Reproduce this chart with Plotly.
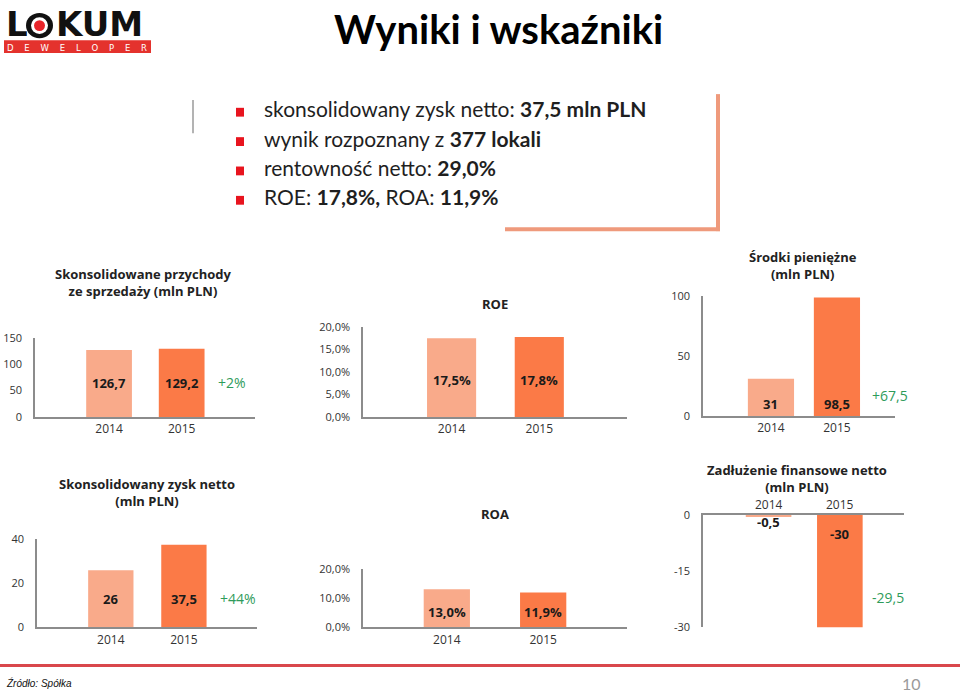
import plotly.graph_objects as go

# ---------------- data ----------------
years = ["2014", "2015"]
revenue = [126.7, 129.2]
revenue_change = "+2%"
roe = [17.5, 17.8]
cash = [31.0, 98.5]
cash_change = "+67,5"
net_profit = [26.0, 37.5]
profit_change = "+44%"
roa = [13.0, 11.9]
net_debt = [-0.5, -30.0]
debt_change = "-29,5"

bullets = [
    "skonsolidowany zysk netto: <b>37,5 mln PLN</b>",
    "wynik rozpoznany z <b>377 lokali</b>",
    "rentowność netto: <b>29,0%</b>",
    "ROE: <b>17,8%,</b> ROA: <b>11,9%</b>",
]

C14 = "#F9AA8A"
C15 = "#FB7A47"
GREEN = "#2E9B5A"
AX = "#8C8C8C"
TXT = "#333333"
FONT = "Open Sans"
W, H = 960, 700


def fx(px):
    return px / W


def fy(py):
    return 1 - py / H


def num(v, pct=False):
    if pct:
        return f"{v:.1f}".replace(".", ",") + "%"
    if float(v).is_integer():
        return str(int(v))
    return f"{v:.1f}".replace(".", ",")


def note(px, py, text, size, color, family=FONT, xanchor="center", **kw):
    d = dict(x=fx(px), y=fy(py), xref="paper", yref="paper", xanchor=xanchor, yanchor="middle",
             text=text, showarrow=False, font=dict(size=size, color=color, family=family))
    d.update(kw)
    return d


fig = go.Figure()
layout = dict(
    width=W, height=H, margin=dict(l=0, r=0, t=0, b=0),
    paper_bgcolor="white", plot_bgcolor="white", showlegend=False,
    font=dict(family=FONT, color=TXT),
)
annotations = []
shapes = []

charts = [
    dict(i=1, v=revenue, xd=(35, 255), yd=(418, 337), xr=[-1.02, 2.01], w=0.63, yr=[0, 150],
         tv=[0, 50, 100, 150], pct=False, ly=[383, 383], side="bottom"),
    dict(i=2, v=roe, xd=(363, 627), yd=(418, 326), xr=[-1.01, 2.0], w=0.56, yr=[0, 20],
         tv=[0, 5, 10, 15, 20], pct=True, ly=[380, 380], side="bottom"),
    dict(i=3, v=cash, xd=(703, 895), yd=(417, 294), xr=[-1.03, 1.88], w=0.7, yr=[0, 100],
         tv=[0, 50, 100], pct=False, ly=[404, 404], side="bottom"),
    dict(i=4, v=net_profit, xd=(37, 257), yd=(633, 543), xr=[-1.01, 2.0], w=0.62, yr=[0, 40],
         tv=[0, 20, 40], pct=False, ly=[603, 603], side="bottom"),
    dict(i=5, v=roa, xd=(363, 627), yd=(633, 573), xr=[-0.87, 1.87], w=0.48, yr=[0, 20],
         tv=[0, 10, 20], pct=True, ly=[617, 617], side="bottom"),
    dict(i=6, v=net_debt, xd=(703, 904), yd=(633, 518), xr=[-0.92, 1.9], w=0.64, yr=[-30, 0],
         tv=[-30, -15, 0], pct=False, ly=[525, 537], side="top"),
]

for c in charts:
    i = c["i"]
    xs = "x" if i == 1 else f"x{i}"
    ys = "y" if i == 1 else f"y{i}"
    top = c["side"] == "top"
    fig.add_trace(go.Bar(
        x=[0, 1], y=c["v"], width=c["w"], marker=dict(color=[C14, C15], line=dict(width=0)),
        xaxis=xs, yaxis=ys, hoverinfo="skip",
    ))
    if c["pct"]:
        tt = [num(t, True) for t in c["tv"]]
    else:
        tt = [str(t) for t in c["tv"]]
    layout["xaxis" if i == 1 else f"xaxis{i}"] = dict(
        domain=[fx(c["xd"][0]), fx(c["xd"][1])], anchor=ys, range=c["xr"],
        tickvals=[0, 1], ticktext=years, showline=True, linecolor=AX, linewidth=1.5,
        showgrid=False, zeroline=False, ticks="", side=c["side"], showticklabels=not top,
        tickfont=dict(size=12, color=TXT, family=FONT), fixedrange=True,
    )
    layout["yaxis" if i == 1 else f"yaxis{i}"] = dict(
        domain=[fy(c["yd"][0]), fy(c["yd"][1])], anchor=xs, range=c["yr"],
        tickvals=c["tv"], ticktext=tt, showline=True, linecolor=AX, linewidth=1.5,
        showgrid=False, zeroline=False, ticks="", ticklabelstandoff=9,
        tickfont=dict(size=11, color=TXT, family=FONT), fixedrange=True,
    )
    if top:
        # category labels sit just above the zero line
        for k in range(2):
            annotations.append(dict(
                x=k, xref=xs, y=fy(506.5), yref="paper", yanchor="middle", xanchor="center",
                text=years[k], showarrow=False, font=dict(size=12, color=TXT, family=FONT), height=14,
            ))
    for k in range(2):
        annotations.append(dict(
            x=k, xref=xs, y=fy(c["ly"][k]), yref="paper", yanchor="middle", xanchor="center",
            text=f"<b>{num(c['v'][k], c['pct'])}</b>", height=15,
            showarrow=False, font=dict(size=13, color="#1a1a1a", family=FONT),
        ))

# change labels (green)
for txt, (px, py) in [(revenue_change, (232, 383)), (cash_change, (890, 396)),
                      (profit_change, (238, 603)), (debt_change, (888, 602))]:
    annotations.append(note(px, py, txt, 14, GREEN))

# chart titles
for txt, (px, py) in [
    ("<b>Skonsolidowane przychody<br>ze sprzedaży (mln PLN)</b>", (143, 280)),
    ("<b>ROE</b>", (495, 302)),
    ("<b>Środki pieniężne<br>(mln PLN)</b>", (803, 263)),
    ("<b>Skonsolidowany zysk netto<br>(mln PLN)</b>", (147, 495)),
    ("<b>ROA</b>", (495, 517)),
    ("<b>Zadłużenie finansowe netto<br>(mln PLN)</b>", (797, 481)),
]:
    annotations.append(note(px, py, txt, 13, "#222222"))

# ---------------- header ----------------
annotations.append(note(498, 21, "<b>Wyniki i wskaźniki</b>", 40, "#000000", "Lato"))
for k, b in enumerate(bullets):
    yc = 108 + 30 * k
    annotations.append(note(262, yc - 5, b, 21, "#1f1f1f", "Lato", xanchor="left"))
    shapes.append(dict(type="rect", xref="paper", yref="paper", x0=fx(236), x1=fx(244),
                       y0=fy(yc + 3), y1=fy(yc - 6), fillcolor="#E8141E", line=dict(width=0)))

# gray divider and salmon L frame
shapes.append(dict(type="line", xref="paper", yref="paper", x0=fx(193), x1=fx(193), y0=fy(94), y1=fy(128),
                   line=dict(color="#9a9a9a", width=1.5)))
shapes.append(dict(type="line", xref="paper", yref="paper", x0=fx(718), x1=fx(718), y0=fy(88), y1=fy(228),
                   line=dict(color="#EF9A7C", width=4)))
shapes.append(dict(type="line", xref="paper", yref="paper", x0=fx(505), x1=fx(720), y0=fy(226), y1=fy(226),
                   line=dict(color="#EF9A7C", width=4)))

# logo
annotations.append(note(4, 16, "<b>L</b>", 34, "#111111", "DejaVu Sans", xanchor="left", height=28))
annotations.append(note(54, 16, "<b>KUM</b>", 34, "#111111", "DejaVu Sans", xanchor="left", height=28))
shapes.append(dict(type="circle", xref="paper", yref="paper", x0=fx(26), x1=fx(53), y0=fy(31), y1=fy(5),
                   fillcolor="#111111", line=dict(width=0)))
shapes.append(dict(type="circle", xref="paper", yref="paper", x0=fx(31), x1=fx(48), y0=fy(26.5), y1=fy(9.5),
                   fillcolor="white", line=dict(width=0)))
shapes.append(dict(type="circle", xref="paper", yref="paper", x0=fx(34), x1=fx(45), y0=fy(23.5), y1=fy(12.5),
                   fillcolor="#E8242A", line=dict(width=0)))
shapes.append(dict(type="rect", xref="paper", yref="paper", x0=fx(4), x1=fx(151), y0=fy(46), y1=fy(33),
                   fillcolor="#E4322D", line=dict(width=0)))
annotations.append(note(77, 40, "D&nbsp;&nbsp;&nbsp;&nbsp;E&nbsp;&nbsp;&nbsp;&nbsp;W&nbsp;&nbsp;&nbsp;&nbsp;E&nbsp;&nbsp;&nbsp;&nbsp;L&nbsp;&nbsp;&nbsp;&nbsp;O&nbsp;&nbsp;&nbsp;&nbsp;P&nbsp;&nbsp;&nbsp;&nbsp;E&nbsp;&nbsp;&nbsp;&nbsp;R",
                        8.5, "white", "DejaVu Sans", height=11))

# footer
shapes.append(dict(type="line", xref="paper", yref="paper", x0=0, x1=1, y0=fy(672), y1=fy(672),
                   line=dict(color="#D9474C", width=3)))
annotations.append(note(4, 690, "<i>Źródło: Spółka</i>", 10, "#111111", "Liberation Sans", xanchor="left"))
annotations.append(note(911, 690, "10", 16, "#9a9a9a", "Lato"))

layout["annotations"] = annotations
layout["shapes"] = shapes
fig.update_layout(**layout)
fig.write_html("out.html", config={"displayModeBar": False},
               post_script="document.body.style.margin='0';document.body.style.overflow='hidden';")
